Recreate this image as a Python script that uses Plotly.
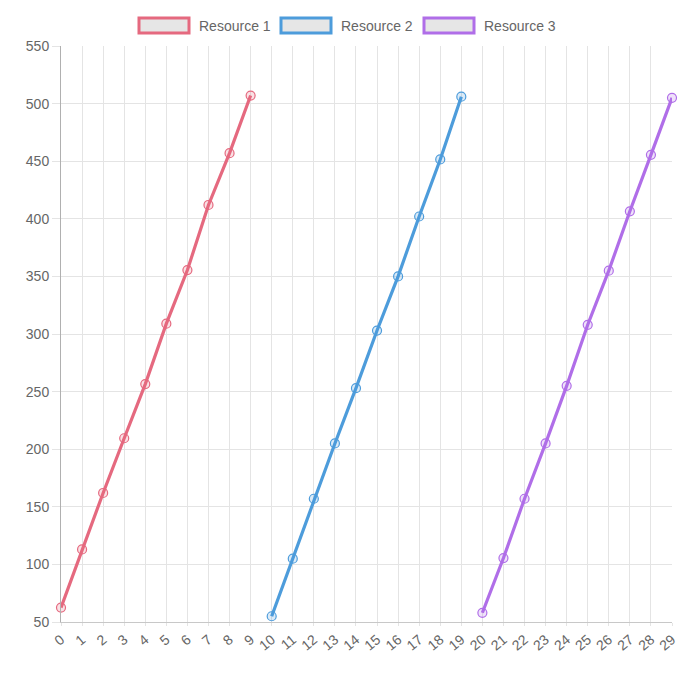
import plotly.graph_objects as go

# x positions (labels 0..29) and values per resource
x_r1 = list(range(0, 10))
x_r2 = list(range(10, 20))
x_r3 = list(range(20, 30))

y_r1 = [62.5, 113, 162, 209.5, 256.5, 309, 355.5, 412, 457, 507]
y_r2 = [55, 105, 157, 205, 253, 303, 350, 402, 451.5, 506]
y_r3 = [58, 105.5, 157, 205, 255, 308, 355, 406.5, 455.5, 505]

names = ['Resource 1', 'Resource 2', 'Resource 3']
colors = ['#e5697f', '#4d9cdb', '#b06ee8']
fills = ['rgba(229,105,127,0.2)', 'rgba(77,156,219,0.2)', 'rgba(176,110,232,0.2)']

# the page body adds an 8px offset, so the figure margins are shifted back
OFF = 8
W, H = 700, 673
L, T = 61 - OFF, 46 - OFF
PW, PH = 611, 576
R, B = W - L - PW, H - T - PH


def px(xp):
    return (xp - OFF - L) / PW


def py(yp):
    return (T + PH - (yp - OFF)) / PH


fig = go.Figure()

for xs, ys, name, c, f in zip([x_r1, x_r2, x_r3], [y_r1, y_r2, y_r3], names, colors, fills):
    fig.add_trace(go.Scatter(
        x=xs, y=ys, name=name, mode='lines+markers',
        line=dict(color=c, width=3.2),
        marker=dict(size=9, color=f, line=dict(color=c, width=1.2)),
        showlegend=False, cliponaxis=False
    ))

# legend drawn chart.js style: bordered box + label
box_left = [139, 281, 424]
text_left = [197, 339, 482]
shapes = []
annotations = []
for bx, tx, name, c in zip(box_left, text_left, names, colors):
    shapes.append(dict(type='rect', xref='paper', yref='paper',
                       x0=px(bx), x1=px(bx + 50), y0=py(33), y1=py(18),
                       line=dict(color=c, width=3), fillcolor='#e6e6e6'))
    annotations.append(dict(text=name, xref='paper', yref='paper',
                            x=px(tx), y=py(25.5), xanchor='left', yanchor='middle',
                            showarrow=False, font=dict(size=14, color='#666666')))

fig.update_layout(
    width=W, height=H,
    margin=dict(l=L, r=R, t=T, b=B),
    plot_bgcolor='white', paper_bgcolor='white',
    font=dict(family='Liberation Sans, Arial, sans-serif', size=14, color='#666666'),
    shapes=shapes, annotations=annotations,
    xaxis=dict(
        range=[0, 29], tickmode='array', tickvals=list(range(30)),
        ticktext=[str(i) for i in range(30)], tickangle=-40,
        showgrid=True, gridcolor='#e4e4e4', gridwidth=1,
        ticks='outside', ticklen=3, tickcolor='#e4e4e4',
        showline=True, linecolor='#c8c8c8', linewidth=1,
        zeroline=False, tickfont=dict(size=14, color='#666666'),
    ),
    yaxis=dict(
        range=[50, 550], tickmode='linear', tick0=50, dtick=50,
        showgrid=True, gridcolor='#e4e4e4', gridwidth=1,
        ticks='outside', ticklen=8, tickcolor='#e4e4e4',
        showline=True, linecolor='#b0b0b0', linewidth=1,
        zeroline=False, tickfont=dict(size=14, color='#666666'),
    ),
)

fig.write_html('out.html')
